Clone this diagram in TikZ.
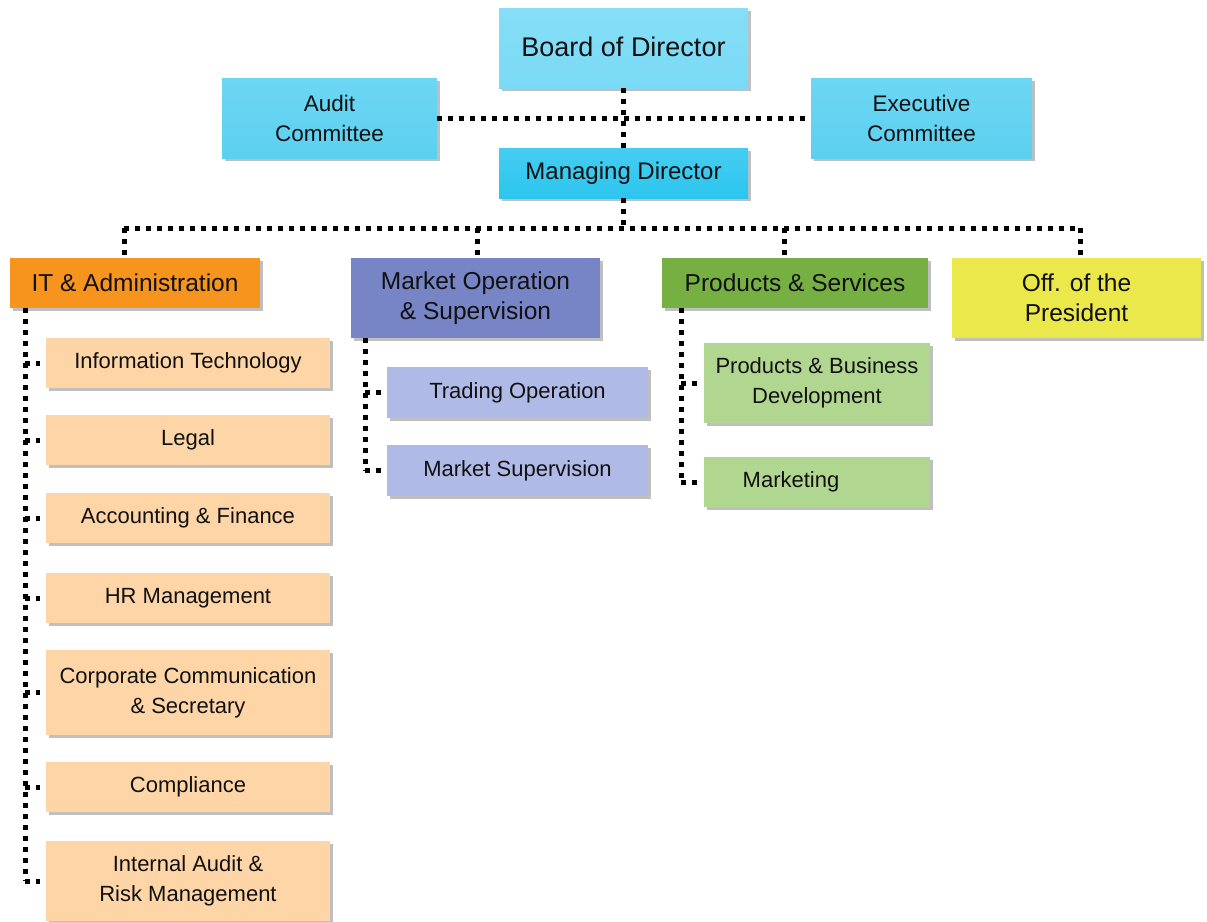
\documentclass[tikz,border=0pt]{standalone}
\usepackage{fontspec}
\setmainfont{Liberation Sans}
\usetikzlibrary{shadows}
\definecolor{cBoard}{HTML}{7ADAF5}
\definecolor{cBoardT}{HTML}{86DEF7}
\definecolor{cComm}{HTML}{5CD0F0}
\definecolor{cCommT}{HTML}{6DD6F3}
\definecolor{cMD}{HTML}{2CC5EE}
\definecolor{cMDT}{HTML}{45CDF1}
\definecolor{cIT}{HTML}{F7941E}
\definecolor{cMkt}{HTML}{7784C6}
\definecolor{cProd}{HTML}{76B043}
\definecolor{cPres}{HTML}{EBE84B}
\definecolor{cPeach}{HTML}{FDD5A6}
\definecolor{cLav}{HTML}{B0BAE6}
\definecolor{cLGreen}{HTML}{B1D690}
\definecolor{cTxt}{HTML}{111111}
\tikzset{
  box/.style={rectangle, inner sep=0pt, align=center, text=cTxt,
    drop shadow={shadow xshift=2.5pt, shadow yshift=-3pt, opacity=0.25, fill=black}},
  fhead/.style={font=\fontsize{24.5}{30}\selectfont},
  fcomm/.style={font=\fontsize{22.5}{30}\selectfont},
  fsub/.style={font=\fontsize{22}{30}\selectfont},
  dotline/.style={line width=5pt, dash pattern=on 5pt off 6pt, line cap=butt, black}
}
\begin{document}
\begin{tikzpicture}[x=1pt,y=-1pt]
\useasboundingbox (0,0) rectangle (1207,921);
% top
\node[box, top color=cBoardT, bottom color=cBoard, minimum width=249pt, minimum height=80pt,
  font=\fontsize{27}{32}\selectfont] (board) at (623.5,48) {\raisebox{2.5pt}{Board of Director}};
\node[box, fcomm, top color=cCommT, bottom color=cComm, minimum width=215pt, minimum height=80pt] (audit) at (329.5,118) {Audit\\Committee};
\node[box, fcomm, top color=cCommT, bottom color=cComm, minimum width=221pt, minimum height=80pt] (exec) at (921.5,118) {Executive\\Committee};
\node[box, top color=cMDT, bottom color=cMD, minimum width=249pt, minimum height=50pt,
  font=\fontsize{24}{30}\selectfont] (md) at (623.5,173) {Managing Director};
% departments
\node[box, fhead, fill=cIT, minimum width=250pt, minimum height=50pt] (it) at (135,283) {IT \& Administration};
\node[box, fhead, fill=cMkt, minimum width=249pt, minimum height=80pt] (mkt) at (475.5,298) {Market Operation\\\& Supervision};
\node[box, fhead, fill=cProd, minimum width=266pt, minimum height=50pt] (prod) at (795,283) {Products \& Services};
\node[box, fhead, fill=cPres, minimum width=249pt, minimum height=80pt] (pres) at (1076.5,298) {Off. of the\\President};
% IT subs
\tikzset{itsub/.style={box, fsub, fill=cPeach, minimum width=284pt}}
\node[itsub, minimum height=50pt] (s1) at (188,363) {Information Technology};
\node[itsub, minimum height=50pt] (s2) at (188,440) {Legal};
\node[itsub, minimum height=50pt] (s3) at (188,518) {Accounting \& Finance};
\node[itsub, minimum height=50pt] (s4) at (188,598) {HR Management};
\node[itsub, minimum height=85pt] (s5) at (188,692.5) {Corporate Communication\\\& Secretary};
\node[itsub, minimum height=50pt] (s6) at (188,787) {Compliance};
\node[itsub, minimum height=80pt] (s7) at (188,881) {Internal Audit \&\\Risk Management};
% Market subs
\tikzset{mksub/.style={box, fsub, fill=cLav, minimum width=261pt, minimum height=51pt}}
\node[mksub] (m1) at (517.5,392.5) {Trading Operation};
\node[mksub] (m2) at (517.5,470.5) {Market Supervision};
% Product subs
\tikzset{pdsub/.style={box, fsub, fill=cLGreen, minimum width=226pt}}
\node[pdsub, minimum height=80pt] (p1) at (817,383) {Products \& Business\\Development};
\node[pdsub, minimum height=50pt] (p2) at (817,482) {\hspace*{-52pt}Marketing};
% connectors top
\draw[dotline] (board.south) -- (md.north);
\draw[dotline] (audit.east) -- (exec.west);
\coordinate (busL) at (124,228);
\coordinate (busR) at (1080,228);
\coordinate (busM) at (477,228);
\coordinate (busP) at (784,228);
\draw[dotline] (md.south) -- (md.south |- busL);
\draw[dotline] (busL) -- (busR);
\draw[dotline] (busL) -- (busL |- it.north);
\draw[dotline] (busM) -- (busM |- mkt.north);
\draw[dotline] (busP) -- (busP |- prod.north);
\draw[dotline] (busR) -- (busR |- pres.north);
% IT spine
\coordinate (itsp) at (25,308);
\draw[dotline] (itsp) -- (itsp |- s7.west);
\foreach \n in {s1,s2,s3,s4,s5,s6,s7}{
  \draw[dotline] (itsp |- \n.west) -- ([xshift=-6pt]\n.west);
}
% Market spine
\coordinate (mksp) at (365,338);
\draw[dotline] (mksp) -- (mksp |- m2.west);
\foreach \n in {m1,m2}{
  \draw[dotline] (mksp |- \n.west) -- ([xshift=-6pt]\n.west);
}
% Product spine
\coordinate (pdsp) at (681,308);
\draw[dotline] (pdsp) -- (pdsp |- p2.west);
\foreach \n in {p1,p2}{
  \draw[dotline] (pdsp |- \n.west) -- ([xshift=-7pt]\n.west);
}
\end{tikzpicture}
\end{document}
